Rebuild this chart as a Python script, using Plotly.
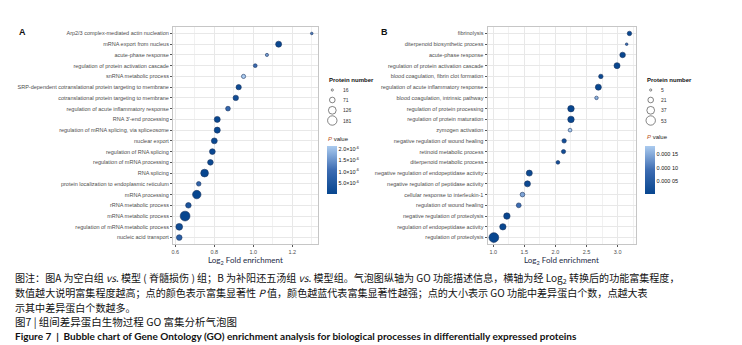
import plotly.graph_objects as go

W, H = 742, 345

termsA = ["Arp2/3 complex-mediated actin nucleation", "mRNA export from nucleus", "acute-phase response",
          "regulation of protein activation cascade", "snRNA metabolic process",
          "SRP-dependent cotranslational protein targeting to membrane",
          "cotranslational protein targeting to membrane", "regulation of acute inflammatory response",
          "RNA 3'-end processing", "regulation of mRNA splicing, via spliceosome", "nuclear export",
          "regulation of RNA splicing", "regulation of mRNA processing", "RNA splicing",
          "protein localization to endoplasmic reticulum", "mRNA processing", "rRNA metabolic process",
          "mRNA metabolic process", "regulation of mRNA metabolic process", "nucleic acid transport"]
foldA = [1.30, 1.13, 1.07, 1.01, 0.95, 0.925, 0.91, 0.87, 0.815, 0.815, 0.80, 0.79, 0.78, 0.75,
         0.72, 0.71, 0.667, 0.65, 0.62, 0.62]
countA = [16, 70, 22, 30, 36, 55, 58, 45, 70, 72, 68, 65, 62, 115, 42, 135, 60, 181, 88, 62]
pA = [1.2e-6, 5e-8, 1.6e-6, 1.0e-6, 2.13e-6, 1.5e-7, 2e-7, 9e-7, 4e-8, 3e-8, 6e-8, 8e-8, 1e-7,
      1.3e-8, 8e-7, 2e-8, 4e-7, 1.5e-8, 1.5e-7, 7e-7]

termsB = ["fibrinolysis", "diterpenoid biosynthetic process", "acute-phase response",
          "regulation of protein activation cascade", "blood coagulation, fibrin clot formation",
          "regulation of acute inflammatory response", "blood coagulation, intrinsic pathway",
          "regulation of protein processing", "regulation of protein maturation", "zymogen activation",
          "negative regulation of wound healing", "retinoid metabolic process",
          "diterpenoid metabolic process", "negative regulation of endopeptidase activity",
          "negative regulation of peptidase activity", "cellular response to interleukin-1",
          "regulation of wound healing", "negative regulation of proteolysis",
          "regulation of endopeptidase activity", "regulation of proteolysis"]
foldB = [3.19, 3.145, 3.08, 2.99, 2.73, 2.69, 2.66, 2.25, 2.25, 2.235, 2.14, 2.13, 2.04, 1.58, 1.55,
         1.47, 1.41, 1.22, 1.155, 1.01]
countB = [12, 5, 18, 21, 12, 21, 8, 24, 24, 9, 12, 11, 9, 21, 21, 13, 14, 24, 23, 53]
pB = [4e-6, 9e-5, 1e-6, 1.2e-6, 1e-5, 1.5e-6, 1.55e-4, 1e-7, 1.2e-7, 1.82e-4, 2e-5, 1.5e-5, 2.5e-5,
      6e-6, 7e-6, 1.45e-4, 9e-5, 1e-6, 2e-6, 2e-9]

legendA = [16, 71, 126, 181]
legendB = [5, 21, 37, 53]
cbTicksA = [5e-7, 1e-6, 1.5e-6, 2e-6]
cbTextA = ["5.0×10<sup>-6</sup>", "1.0×10<sup>-6</sup>", "1.5×10<sup>-6</sup>", "2.0×10<sup>-6</sup>"]
cbTicksB = [5e-5, 1e-4, 1.5e-4]
cbTextB = ["0.000 05", "0.000 10", "0.000 15"]

captions = [
    "图注：图A 为空白组 <i>vs</i>. 模型 ( 脊髓损伤 ) 组；B 为补阳还五汤组 <i>vs</i>. 模型组。气泡图纵轴为 GO 功能描述信息，横轴为经 Log<sub>2</sub> 转换后的功能富集程度，",
    "数值越大说明富集程度越高；点的颜色表示富集显著性 <i>P</i> 值，颜色越蓝代表富集显著性越强；点的大小表示 GO 功能中差异蛋白个数，点越大表",
    "示其中差异蛋白个数越多。",
    "图7 | 组间差异蛋白生物过程 GO 富集分析气泡图",
]
figTitle = "Figure 7  |  Bubble chart of Gene Ontology (GO) enrichment analysis for biological processes in differentially expressed proteins"

COLORSCALE = [[0, "#07468f"], [0.5, "#3d6cb2"], [1, "#abcbef"]]
DMIN, DMAX = 2.6, 9.8


def diam(n, lo, hi):
    return (DMIN ** 2 + (DMAX ** 2 - DMIN ** 2) * (n - lo) / (hi - lo)) ** 0.5


def px(x):
    return x / W


def py(y):
    return 1 - y / H


fig = go.Figure()

panels = [
    dict(terms=termsA, fold=foldA, count=countA, p=pA, xa="x", ya="y", dom=[165, 310],
         rng=[0.588, 1.332], dtick=0.2, tick0=0.6, minor=0.1, fmt=".1f",
         leg=legendA, legx=324.3, cbx=319.3, cbt=cbTicksA, cbtext=cbTextA, ptitle_y=131, ptitle_x=318),
    dict(terms=termsB, fold=foldB, count=countB, p=pB, xa="x2", ya="y2", dom=[479.5, 628.3],
         rng=[0.908, 3.30], dtick=0.5, tick0=1.0, minor=0.25, fmt=".1f",
         leg=legendB, legx=642.7, cbx=637, cbt=cbTicksB, cbtext=cbTextB, ptitle_y=129, ptitle_x=637),
]

shapes = []
annotations = []
TICKFONT = dict(family="Liberation Sans, Arial", size=5.5, color="#4d4d4d")

for i, P in enumerate(panels):
    lo, hi = min(P["count"]), max(P["count"])
    sizes = [diam(c, lo, hi) for c in P["count"]]
    fig.add_trace(go.Scatter(
        x=P["fold"], y=P["terms"], mode="markers", xaxis=P["xa"], yaxis=P["ya"], showlegend=False,
        marker=dict(size=sizes, color=P["p"], colorscale=COLORSCALE, cmin=min(P["p"]), cmax=max(P["p"]),
                    opacity=1, line=dict(width=0.6, color="#1c3560"),
                    colorbar=dict(x=px(P["cbx"]), xanchor="left", xpad=0, y=py(138), yanchor="top", ypad=0,
                                  lenmode="pixels", len=48, thickness=9.5, outlinewidth=0,
                                  tickvals=P["cbt"], ticktext=P["cbtext"], ticks="",
                                  tickfont=dict(family="Liberation Sans, Arial", size=5.5, color="#111"))),
    ))
    axkey = "xaxis" if i == 0 else "xaxis2"
    aykey = "yaxis" if i == 0 else "yaxis2"
    fig.update_layout(**{
        axkey: dict(domain=[px(P["dom"][0]), px(P["dom"][1])], range=P["rng"], anchor=P["ya"],
                    tick0=P["tick0"], dtick=P["dtick"], tickformat=P["fmt"], showgrid=True,
                    gridcolor="#e8e8e8", gridwidth=0.6, showline=True, mirror=True, linecolor="#c6c6c6",
                    linewidth=1, ticks="outside", ticklen=2, tickwidth=0.6, tickcolor="#555",
                    tickfont=TICKFONT, zeroline=False,
                    minor=dict(dtick=P["minor"], tick0=P["tick0"], showgrid=True, gridcolor="#f1f1f1",
                               gridwidth=0.5, ticks="")),
        aykey: dict(domain=[py(236), py(19)], type="category", categoryorder="array",
                    categoryarray=P["terms"], range=[19.6, -0.6], anchor=P["xa"], showgrid=True,
                    gridcolor="#e8e8e8", gridwidth=0.6, showline=True, mirror=True, linecolor="#c6c6c6",
                    linewidth=1, ticks="outside", ticklen=2, tickwidth=0.6, tickcolor="#555",
                    tickfont=TICKFONT, zeroline=False),
    })
    # size legend
    annotations.append(dict(text="<b>Protein number</b>", x=px(P["legx"] - 5.5), y=py(72), xref="paper",
                            yref="paper", xanchor="left", yanchor="middle", showarrow=False,
                            font=dict(family="Liberation Sans, Arial", size=6, color="#111")))
    for j, v in enumerate(P["leg"]):
        cy = [82, 92, 102.3, 112.5][j]
        r = diam(v, P["leg"][0], P["leg"][-1]) / 2 - 0.2
        shapes.append(dict(type="circle", xref="paper", yref="paper",
                           x0=px(P["legx"] - r), x1=px(P["legx"] + r), y0=py(cy + r), y1=py(cy - r),
                           line=dict(color="#333", width=0.6)))
        annotations.append(dict(text=str(v), x=px(P["legx"] + 8.5), y=py(cy), xref="paper", yref="paper",
                                xanchor="left", yanchor="middle", showarrow=False,
                                font=dict(family="Liberation Sans, Arial", size=5, color="#333")))
    annotations.append(dict(text="<i><span style='color:#b8541e'>P</span></i> value", x=px(P["ptitle_x"]),
                            y=py(P["ptitle_y"]), xref="paper", yref="paper", xanchor="left",
                            yanchor="middle", showarrow=False,
                            font=dict(family="Liberation Sans, Arial", size=6, color="#222")))
    annotations.append(dict(text="Log<sub>2</sub> Fold enrichment", x=px(sum(P["dom"]) / 2), y=py(253),
                            xref="paper", yref="paper", xanchor="center", yanchor="middle", showarrow=False,
                            font=dict(family="Lato, Open Sans", size=8, color="#1d2a45")))

annotations.append(dict(text="<b>A</b>", x=px(9), y=py(24), xref="paper", yref="paper", xanchor="left",
                        yanchor="middle", showarrow=False, font=dict(family="Liberation Sans", size=9, color="#111")))
annotations.append(dict(text="<b>B</b>", x=px(371), y=py(24), xref="paper", yref="paper", xanchor="left",
                        yanchor="middle", showarrow=False, font=dict(family="Liberation Sans", size=9, color="#111")))

for k, (t, yy) in enumerate(zip(captions, [270, 284.5, 299, 313.5])):
    annotations.append(dict(text=t, x=px(5), y=py(yy), xref="paper", yref="paper", xanchor="left",
                            yanchor="middle", showarrow=False,
                            font=dict(family="Noto Sans CJK SC", size=10.05 if k < 3 else 10.5, color="#111")))
annotations.append(dict(text="<b>" + figTitle + "</b>", x=px(5), y=py(328), xref="paper", yref="paper",
                        xanchor="left", yanchor="middle", showarrow=False,
                        font=dict(family="Lato", size=10, color="#111")))

fig.update_layout(width=W, height=H, margin=dict(l=0, r=0, t=0, b=0), paper_bgcolor="white",
                  plot_bgcolor="white", shapes=shapes, annotations=annotations, showlegend=False)

fig.write_html("out.html")
